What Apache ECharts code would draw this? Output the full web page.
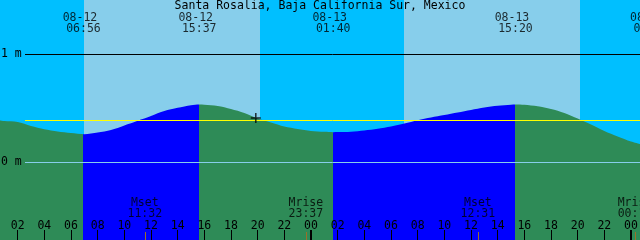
<!DOCTYPE html>
<html><head><meta charset="utf-8">
<script src="https://cdn.jsdelivr.net/npm/echarts@6/dist/echarts.min.js"></script>
<style>html,body{margin:0;padding:0;background:#00BFFF}#c{width:640px;height:240px}</style>
</head><body><div id="c"></div>
<script>
// ---- data (hours counted from 08-12 00:00) ----
const titleText = 'Santa Rosalia, Baja California Sur, Mexico';
const startHour = 0.675;
const endHour = 48.675;
const tideHours  = [0.675, 1, 2, 3, 4, 5, 6, 7, 8, 9, 10, 11, 12, 13, 14, 15, 15.62, 16, 17, 18, 19, 20, 21, 22, 23, 24,
                    25, 25.67, 26, 27, 28, 29, 30, 31, 32, 33, 34, 35, 36, 37, 38, 39, 39.33, 40, 41, 42, 43, 44, 45, 46, 47, 48, 48.675];
const tideLevels = [0.389, 0.384, 0.375, 0.338, 0.308, 0.287, 0.273, 0.262, 0.278, 0.301, 0.343, 0.387, 0.431, 0.476, 0.506, 0.531, 0.537, 0.535, 0.523, 0.495, 0.458, 0.407, 0.370, 0.333, 0.310, 0.292,
                    0.284, 0.281, 0.282, 0.285, 0.296, 0.312, 0.333, 0.361, 0.392, 0.417, 0.440, 0.463, 0.486, 0.509, 0.525, 0.535, 0.537, 0.534, 0.520, 0.495, 0.458, 0.407, 0.352, 0.292, 0.241, 0.194, 0.171];
const sunriseHours = [6.975, 30.975];
const sunsetHours  = [20.175, 44.175];
const extremeHours = [6.933, 15.617, 25.667, 39.333, 49.483];
const extremeDates = ['08-12', '08-12', '08-13', '08-13', '08-14'];
const extremeTimes = ['06:56', '15:37', '01:40', '15:20', '01:29'];
const extremeTypes = ['low', 'high', 'low', 'high', 'low'];
const moonHours = [11.533, 23.617, 36.517, 48.3];
const moonNames = ['Mset', 'Mrise', 'Mset', 'Mrise'];
const moonTimes = ['11:32', '23:37', '12:31', '00:18'];
const tickHours  = [2, 4, 6, 8, 10, 12, 14, 16, 18, 20, 22, 24, 26, 28, 30, 32, 34, 36, 38, 40, 42, 44, 46, 48];
const tickLabels = ['02','04','06','08','10','12','14','16','18','20','22','00','02','04','06','08','10','12','14','16','18','20','22','00'];
const midnightHours = [24, 48];
const datumLevels = [1, 0];
const datumLabels = ['1 m', '0 m'];
const markLevel = 0.389;
const nowHour = 19.86;
const nowLevel = 0.412;

// ---- layout helpers ----
const FONT = 'DejaVu Sans Mono';
const FS = 11.5;
const Y_MAX = 1 + 54.5 / 108;
const Y_MIN = 1 - 185.5 / 108;
const pxToLevel = y => 1 - (y - 54.5) / 108;
const COL_NIGHT = '#00BFFF', COL_DAY = '#87CEEB', COL_RISE = '#0000FF', COL_FALL = '#2E8B57';

const tideData = tideHours.map((h, i) => [h, tideLevels[i]]);

// flood (rising, before a high) = blue, ebb (falling, before a low) = green
const span = tideHours[tideHours.length - 1] - tideHours[0];
const stops = [];
let prevOff = 0;
extremeHours.forEach((h, i) => {
  const col = extremeTypes[i] === 'high' ? COL_RISE : COL_FALL;
  const off = Math.min(1, Math.max(0, (h - tideHours[0]) / span));
  stops.push({ offset: prevOff, color: col }, { offset: off, color: col });
  prevOff = off;
});
if (prevOff < 1) {
  const col = extremeTypes[extremeTypes.length - 1] === 'high' ? COL_FALL : COL_RISE;
  stops.push({ offset: prevOff, color: col }, { offset: 1, color: col });
}
const tideFill = new echarts.graphic.LinearGradient(0, 0, 1, 0, stops);

function textItem(x, y, text, dx) {
  return { value: [x, pxToLevel(y)], label: { formatter: text, offset: [dx || 0, 0] } };
}
const labelItems = [];
extremeHours.forEach((h, i) => {
  labelItems.push(textItem(h, 18, extremeDates[i], -3.5));
  labelItems.push(textItem(h, 29.5, extremeTimes[i], 0));
});
moonHours.forEach((h, i) => {
  labelItems.push(textItem(h, 203, moonNames[i], 0));
  labelItems.push(textItem(h, 214, moonTimes[i], 0));
});

const noLine = { show: false, onZero: false };
const chart = echarts.init(document.getElementById('c'));
chart.setOption({
  animation: false,
  backgroundColor: COL_NIGHT,
  title: { text: titleText, left: 'center', top: 0, padding: 0,
    textStyle: { fontFamily: FONT, fontSize: FS, fontWeight: 'normal', color: '#000' } },
  grid: [
    { left: 0, right: 0, top: 0, bottom: 0, containLabel: false, outerBoundsMode: 'none' },
    { left: 25, right: 0, top: 0, bottom: 0, containLabel: false, outerBoundsMode: 'none' }
  ],
  xAxis: [
    { gridIndex: 0, type: 'value', min: startHour, max: endHour, position: 'bottom', z: 20,
      axisLine: noLine, splitLine: { show: false },
      axisTick: { show: true, inside: true, length: 10, customValues: tickHours, lineStyle: { color: '#000', width: 1 } },
      axisLabel: { show: true, inside: true, margin: 8, customValues: tickHours,
        formatter: v => tickLabels[tickHours.indexOf(v)], color: '#000', fontFamily: FONT, fontSize: FS } },
    { gridIndex: 1, type: 'value', min: 0, max: 1, show: false, axisLine: noLine },
    { gridIndex: 0, type: 'value', min: startHour, max: endHour, position: 'bottom', z: 21,
      axisLine: noLine, splitLine: { show: false }, axisLabel: { show: false },
      axisTick: { show: true, inside: true, length: 10, customValues: midnightHours, lineStyle: { color: '#000', width: 2 } } },
    { gridIndex: 0, type: 'value', min: startHour, max: endHour, position: 'bottom', z: 21,
      axisLine: noLine, splitLine: { show: false }, axisLabel: { show: false },
      axisTick: { show: true, inside: true, length: 8, customValues: moonHours, lineStyle: { color: '#9A6F2A', width: 1 } } }
  ],
  yAxis: [
    { gridIndex: 0, type: 'value', min: Y_MIN, max: Y_MAX, z: 20,
      axisLine: noLine, axisTick: { show: false }, splitLine: { show: false },
      axisLabel: { show: true, inside: true, margin: 1, customValues: datumLevels, padding: [2, 0, 0, 0],
        formatter: v => datumLabels[datumLevels.indexOf(v)], color: '#000', fontFamily: FONT, fontSize: FS } },
    { gridIndex: 1, type: 'value', min: Y_MIN, max: Y_MAX, show: false, axisLine: noLine }
  ],
  series: [
    { type: 'line', xAxisIndex: 0, yAxisIndex: 0, data: [], z: 1, silent: true,
      markArea: { silent: true, itemStyle: { color: COL_DAY, opacity: 1 },
        data: sunriseHours.map((h, i) => [{ xAxis: h }, { xAxis: sunsetHours[i] }]) } },
    { type: 'line', xAxisIndex: 0, yAxisIndex: 0, data: tideData, z: 2, silent: true, clip: false,
      showSymbol: false, smooth: 0.3,
      lineStyle: { width: 0 }, areaStyle: { opacity: 1, origin: 'start', color: tideFill } },
    { type: 'line', xAxisIndex: 1, yAxisIndex: 1, data: [], z: 3, silent: true,
      markLine: { silent: true, symbol: ['none', 'none'], label: { show: false },
        data: [
          { yAxis: datumLevels[0], lineStyle: { color: '#000', width: 1, type: 'solid' } },
          { yAxis: datumLevels[1], lineStyle: { color: COL_DAY, width: 1, type: 'solid' } },
          { yAxis: markLevel, lineStyle: { color: '#FFFF00', width: 1, type: 'solid' } }
        ] } },
    { type: 'scatter', xAxisIndex: 0, yAxisIndex: 0, z: 6, silent: true,
      data: [[nowHour, nowLevel]], symbol: 'path://M5,0L5,10M0,5L10,5', symbolSize: 10,
      itemStyle: { color: 'none', borderColor: '#000', borderWidth: 1.5 } },
    { type: 'scatter', xAxisIndex: 0, yAxisIndex: 0, z: 8, silent: true, clip: false,
      symbolSize: 0, data: labelItems,
      label: { show: true, position: 'inside', color: '#000', fontFamily: FONT, fontSize: FS } }
  ]
});
</script></body></html>
